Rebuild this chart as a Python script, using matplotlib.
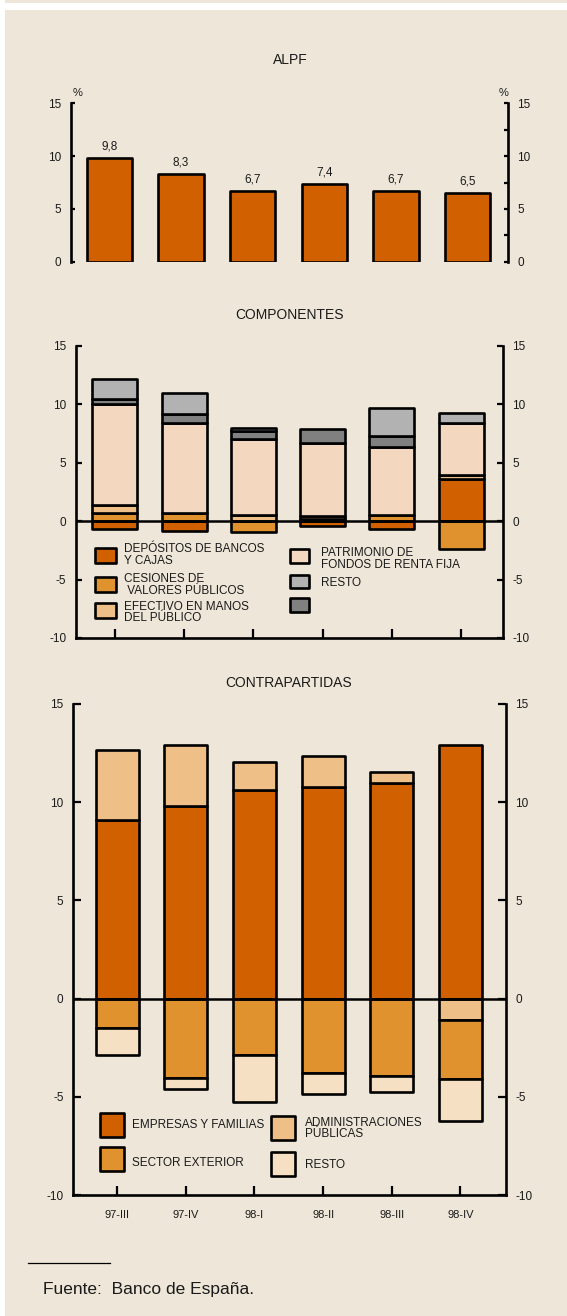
import numpy as np
import matplotlib
matplotlib.use("Agg")
import matplotlib.pyplot as plt
from matplotlib.patches import Rectangle

# ---------------- DATA ----------------
periods = ["97-III", "97-IV", "98-I", "98-II", "98-III", "98-IV"]

# ALPF, tasa interanual (%)
alpf = [9.8, 8.3, 6.7, 7.4, 6.7, 6.5]

# Componentes (contribuciones, puntos)
depositos = [-0.7, -0.88, 0.0, -0.4, -0.68, 3.6]
cesiones = [0.68, 0.69, -0.9, 0.2, 0.55, -2.4]
efectivo = [0.7, 0.0, 0.5, 0.28, 0.0, 0.35]
patrimonio = [8.65, 7.7, 6.57, 6.25, 5.8, 4.5]
otros_comp = [0.47, 0.75, 0.67, 1.15, 0.93, 0.0]
resto_comp = [1.7, 1.8, 0.22, 0.0, 2.45, 0.85]

# Contrapartidas (contribuciones, puntos)
empresas = [9.1, 9.8, 10.6, 10.75, 11.0, 12.9]
admin_publicas = [3.55, 3.1, 1.45, 1.6, 0.55, -1.1]
sector_exterior = [-1.5, -4.05, -2.85, -3.8, -3.95, -3.0]
resto_contra = [-1.35, -0.55, -2.4, -1.05, -0.8, -2.15]

# ---------------- STYLE ----------------
W, H = 567, 1316
BG = "#EEE7D9"
DARK_ORANGE = "#D06000"
ORANGE = "#E0922F"
LIGHT_ORANGE = "#EEC088"
PEACH = "#F3D7BF"
CREAM = "#F6E0C4"
LIGHT_GRAY = "#B2B2B2"
DARK_GRAY = "#808080"
TXT = "#1a1a1a"

plt.rcParams["font.family"] = ["Liberation Sans", "DejaVu Sans"]
plt.rcParams["axes.unicode_minus"] = False

fig = plt.figure(figsize=(W / 100, H / 100), dpi=100, facecolor="white")


def fx(px):
    return px / W


def fy(py):
    return 1 - py / H


def add_axes_px(left, right, top, bottom):
    return fig.add_axes([fx(left), fy(bottom), (right - left) / W, (bottom - top) / H])


# beige panel
fig.add_artist(Rectangle((fx(5), fy(1316)), fx(562), (1316 - 10) / H,
                         transform=fig.transFigure, facecolor=BG, edgecolor="none", zorder=-10))
fig.add_artist(Rectangle((fx(5), fy(3)), fx(562), 3 / H,
                         transform=fig.transFigure, facecolor=BG, edgecolor="none", zorder=-10))


def style_axis(ax, ylim, yticks, xlim, bottom_spine, tick_len, xtick_len=6.5):
    ax.set_facecolor("none")
    ax.set_xlim(*xlim)
    ax.set_ylim(*ylim)
    ax.set_yticks(yticks)
    ax.set_yticklabels([str(t) for t in yticks])
    for side in ["left", "right"]:
        ax.spines[side].set_linewidth(1.9)
        ax.spines[side].set_color("black")
    ax.spines["top"].set_visible(False)
    if bottom_spine:
        ax.spines["bottom"].set_linewidth(1.9)
        ax.spines["bottom"].set_color("black")
        ax.tick_params(axis="x", direction="in", length=xtick_len, width=1.6,
                       color="black", bottom=True, top=False)
    else:
        ax.spines["bottom"].set_visible(False)
        ax.tick_params(axis="x", bottom=False, labelbottom=False)
    ax.tick_params(axis="y", which="major", direction="in", length=tick_len, width=1.6,
                   left=True, right=True, labelleft=True, labelright=True,
                   labelsize=8.5, labelcolor=TXT, pad=7)


def stacked(ax, series, colors, width):
    x = np.arange(len(periods))
    pos = np.zeros(len(periods))
    neg = np.zeros(len(periods))
    for vals, col in zip(series, colors):
        vals = np.asarray(vals, dtype=float)
        bottoms = np.where(vals >= 0, pos, neg)
        mask = vals != 0
        ax.bar(x[mask], vals[mask], bottom=bottoms[mask], width=width, color=col,
               edgecolor="black", linewidth=1.9, joinstyle="round", zorder=2)
        pos = pos + np.where(vals > 0, vals, 0)
        neg = neg + np.where(vals < 0, vals, 0)


def legend_entry(x0, yc, w, h, color, label, tx, ty, lsp=1.0):
    fig.add_artist(Rectangle((fx(x0), fy(yc + h / 2)), w / W, h / H, transform=fig.transFigure,
                             facecolor=color, edgecolor="black", linewidth=1.9,
                             joinstyle="round", zorder=5))
    if label:
        fig.text(fx(tx), fy(ty), label, fontsize=8.5, color=TXT, ha="left", va="center",
                 linespacing=lsp, zorder=5)


# ---------------- ALPF ----------------
ax1 = add_axes_px(70.7, 507.7, 103.3, 261.7)
x = np.arange(len(periods))
bars = ax1.bar(x, alpf, width=0.63, color=DARK_ORANGE, edgecolor="black",
               linewidth=1.9, joinstyle="round", zorder=2)
style_axis(ax1, (0, 15), [0, 5, 10, 15], (-0.54, 5.56), False, 3)
ax1.set_yticks([2.5, 7.5, 12.5], minor=True)
ax1.tick_params(axis="y", which="minor", direction="in", length=3, width=1.6,
                left=False, right=True)
for xi, v in zip(x, alpf):
    ax1.annotate(f"{v:.1f}".replace(".", ","), (xi, v), xytext=(0, 4),
                 textcoords="offset points", ha="center", va="bottom",
                 fontsize=8.5, color=TXT)
ax1.text(0.015, 1.065, "%", transform=ax1.transAxes, fontsize=8, color=TXT,
         ha="center", va="center")
ax1.text(0.99, 1.065, "%", transform=ax1.transAxes, fontsize=8, color=TXT,
         ha="center", va="center")
fig.text(fx(290.8), fy(60), "ALPF", fontsize=10, color=TXT, ha="center", va="center")

# ---------------- COMPONENTES ----------------
ax2 = add_axes_px(76, 502.7, 346, 638)
stacked(ax2, [depositos, cesiones, efectivo, patrimonio, otros_comp, resto_comp],
        [DARK_ORANGE, ORANGE, LIGHT_ORANGE, PEACH, DARK_GRAY, LIGHT_GRAY], 0.65)
ax2.axhline(0, color="black", linewidth=1.8, zorder=3)
style_axis(ax2, (-10, 15), [-10, -5, 0, 5, 10, 15], (-0.56, 5.6), True, 4)
ax2.set_xticks(x)
ax2.tick_params(axis="x", labelbottom=False)
fig.text(fx(289.7), fy(315), "COMPONENTES", fontsize=10, color=TXT, ha="center", va="center")

legend_entry(94.5, 555, 21, 15, DARK_ORANGE, "DEPÓSITOS DE BANCOS\nY CAJAS", 124, 555, 1.0)
legend_entry(94.5, 584, 21, 15, ORANGE, "CESIONES DE\n VALORES PÚBLICOS", 124, 584.5, 1.0)
legend_entry(94.5, 611, 21, 15, LIGHT_ORANGE, "EFECTIVO EN MANOS\nDEL PÚBLICO", 124, 612.5, 0.8)
legend_entry(290, 556, 19, 13, PEACH, "PATRIMONIO DE\nFONDOS DE RENTA FIJA", 321, 559, 1.0)
legend_entry(290, 581.5, 19, 13, LIGHT_GRAY, "RESTO", 321, 583.5)
legend_entry(290, 605, 19, 13, DARK_GRAY, "", 0, 0)

# ---------------- CONTRAPARTIDAS ----------------
ax3 = add_axes_px(73.3, 505.7, 704, 1195)
stacked(ax3, [empresas, admin_publicas, sector_exterior, resto_contra],
        [DARK_ORANGE, LIGHT_ORANGE, ORANGE, CREAM], 0.63)
ax3.axhline(0, color="black", linewidth=1.8, zorder=3)
style_axis(ax3, (-10, 15), [-10, -5, 0, 5, 10, 15], (-0.64, 5.66), True, 6)
ax3.set_xticks(x)
ax3.set_xticklabels(periods, fontsize=8, color=TXT)
ax3.tick_params(axis="x", pad=11)
fig.text(fx(288.8), fy(683), "CONTRAPARTIDAS", fontsize=10, color=TXT, ha="center", va="center")

legend_entry(99.5, 1125, 24, 24, DARK_ORANGE, "EMPRESAS Y FAMILIAS", 132, 1124.5)
legend_entry(99.5, 1159, 24, 24, ORANGE, "SECTOR EXTERIOR", 132, 1162.5)
legend_entry(271, 1128, 24, 24, LIGHT_ORANGE, "ADMINISTRACIONES\nPÚBLICAS", 305, 1128.5, 0.95)
legend_entry(271, 1164, 24, 24, CREAM, "RESTO", 305, 1164.5)

# ---------------- FUENTE ----------------
fig.add_artist(plt.Line2D([fx(28), fx(110)], [fy(1263), fy(1263)], transform=fig.transFigure,
                          color="black", linewidth=0.9))
fig.text(fx(43), fy(1289.5), "Fuente:  Banco de España.", fontsize=12.5, color=TXT,
         ha="left", va="center")

fig.savefig("out.png", dpi=100, facecolor=fig.get_facecolor())
